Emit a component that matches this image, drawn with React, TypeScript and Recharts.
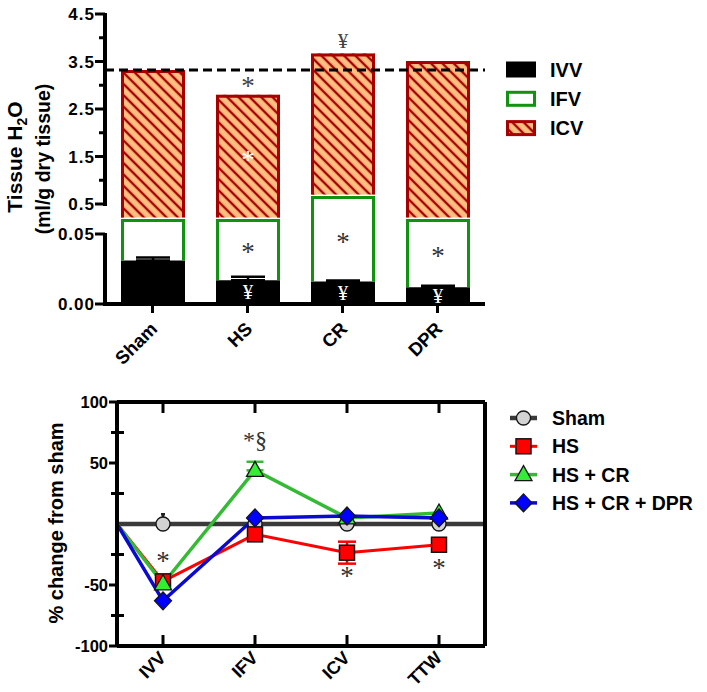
import React from 'react'
import {
  Bar,
  BarChart,
  ErrorBar,
  LabelList,
  Legend,
  Line,
  LineChart,
  ReferenceLine,
  XAxis,
  YAxis,
} from 'recharts'

// ---- top panel: tissue water compartments (ml/g dry tissue) ----
const groups = ['Sham', 'HS', 'CR', 'DPR']
const ivv = [0.031, 0.017, 0.016, 0.012]
const ivvErr = [0.0022, 0.0025, 0.0008, 0.001]
const ifv = [0.244, 0.258, 0.652, 0.263]
const icv = [3.045, 2.525, 3.002, 3.235]
const shamTotal = 3.32
const ivvMarks = ['', '¥', '¥', '¥']
const ifvMarks = ['', '*', '*', '*']
const icvMarks = ['', '*', '', '']
const totalMarks = ['', '*', '¥', '']
const lowerTicks = [0, 0.05]
const upperTicks = [0.5, 1, 1.5, 2, 2.5, 3, 3.5, 4, 4.5]
const upperLabels = [0.5, 1.5, 2.5, 3.5, 4.5]

// ---- bottom panel: % change from sham ----
const compartments = ['IVV', 'IFV', 'ICV', 'TTW']
const xPos = [0.5, 1, 2, 3, 4, 4.5]
const sham = [0, 0, 0, 0, 0, 0]
const hs = [0, -47, -8.5, -23.5, -17, null]
const hsCr = [0, -49, 44, 5, 9, null]
const hsCrDpr = [0, -63, 5, 6.5, 5, null]
const shamErr = [null, [0, 8], null, null, null, null]
const hsErr = [null, null, null, 9, null, null]
const hsCrErr = [null, null, [0, 7], null, null, null]
const hsMarks = ['', '*', '', '*', '*', '']
const hsMarkSide = ['', 'above', '', 'below', 'below', '']
const hsCrMarks = ['', '', '*§', '', '', '']
const pctTicks = [-100, -75, -50, -25, 0, 25, 50, 75, 100]
const pctLabels = [-100, -50, 50, 100]
const pctRightTicks = [-75, -50, -25, 25, 50, 75]

const SANS = 'Arial, "Liberation Sans", Helvetica, sans-serif'
const SERIF = '"Liberation Serif", "Times New Roman", serif'
const IFV_GREEN = '#119211'
const ICV_RED = '#a80000'
const ICV_FILL = '#fcbf80'

// broken axis: 0-0.05 gets 70 units, 0.05-0.5 gets 30, 0.5-4.5 gets 190
const toAxis = (v: number) =>
  v <= 0.05 ? (v / 0.05) * 70 : v <= 0.5 ? 70 + ((v - 0.05) / 0.45) * 30 : 100 + (v - 0.5) * 47.5
const AXIS_MAX = toAxis(4.5)
const TOP_PLOT_H = 290
const K = TOP_PLOT_H / AXIS_MAX

const barData = groups.map((name, i) => {
  const a = ivv[i]
  const b = a + ifv[i]
  const c = b + icv[i]
  return {
    name,
    ivv: toAxis(a),
    ifv: toAxis(b) - toAxis(a),
    icv: toAxis(c) - toAxis(b),
    ivvErr: [0, toAxis(a + ivvErr[i]) - toAxis(a)],
    ivvMark: ivvMarks[i],
    ifvMark: ifvMarks[i],
    icvMark: icvMarks[i],
    totalMark: totalMarks[i],
  }
})

const lineData = xPos.map((pos, i) => ({
  pos,
  sham: sham[i],
  hs: hs[i],
  hsCr: hsCr[i],
  hsCrDpr: hsCrDpr[i],
  shamErr: shamErr[i],
  hsErr: hsErr[i],
  hsCrErr: hsCrErr[i],
  hsAbove: hsMarkSide[i] === 'above' ? hsMarks[i] : '',
  hsBelow: hsMarkSide[i] === 'below' ? hsMarks[i] : '',
  hsCrMark: hsCrMarks[i],
}))

// draws a serif mark with its visual centre on (x, y)
function Mark({ x, y, text, fill = '#333', size = 26 }: any) {
  const dy = text === '*' ? 0.44 * size : 0.33 * size
  return (
    <text x={x} y={y + dy} textAnchor="middle" fontFamily={SERIF} fontSize={size} fill={fill}>
      {text}
    </text>
  )
}

const boxOf = (props: any) => {
  const vb = props.viewBox ?? {}
  return {
    x: vb.x ?? props.x,
    y: vb.y ?? props.y,
    width: vb.width ?? props.width ?? 0,
    height: vb.height ?? props.height ?? 0,
  }
}

const midLabel = (fill: string, size: number) => (props: any) => {
  if (!props.value) return <g />
  const { x, y, width, height } = boxOf(props)
  return <Mark x={x + width / 2} y={y + height / 2} text={props.value} fill={fill} size={size} />
}

const aboveBarLabel = (props: any) => {
  if (!props.value) return <g />
  const { x, y, width } = boxOf(props)
  return <Mark x={x + width / 2} y={y - 12} text={props.value} fill="#444" size={props.value === '*' ? 27 : 21} />
}

const pointLabel = (dy: number) => (props: any) => {
  if (!props.value) return <g />
  const { x, y } = boxOf(props)
  return <Mark x={x} y={y + dy} text={props.value} fill="#333" size={props.value === '*' ? 27 : 24} />
}

function IfvShape(props: any) {
  const { x, y, width, height } = props
  return (
    <path
      d={`M${x + 1.5},${y + height} V${y + 1.5} H${x + width - 1.5} V${y + height}`}
      fill="none"
      stroke={IFV_GREEN}
      strokeWidth={3}
    />
  )
}

function IcvShape(props: any) {
  const { x, y, width, height } = props
  return (
    <g>
      <rect x={x} y={y} width={width} height={Math.max(0, height - 1.5)} fill="url(#icvHatch)" />
      <path
        d={`M${x + 1.5},${y + height - 1.5} V${y + 1.5} H${x + width - 1.5} V${y + height - 1.5}`}
        fill="none"
        stroke={ICV_RED}
        strokeWidth={3}
      />
    </g>
  )
}

const tickDefs = [
  ...lowerTicks.map((v) => ({ v, label: v.toFixed(2), major: true })),
  ...upperTicks.map((v) => ({ v, label: upperLabels.includes(v) ? v.toFixed(1) : '', major: upperLabels.includes(v) })),
]

function WaterYTick(props: any) {
  const { x, y, payload } = props
  const def = tickDefs.find((d) => Math.abs(toAxis(d.v) - payload.value) < 0.01)
  if (!def) return <g />
  let segment = 0
  if (def.v === 0.05) segment = (toAxis(0.05) - toAxis(0)) * K
  if (def.v === 4.5) segment = (toAxis(4.5) - toAxis(0.5)) * K
  return (
    <g>
      {segment > 0 && <line x1={x} x2={x} y1={y - 1} y2={y + segment + 2} stroke="#000" strokeWidth={4} />}
      <line x1={def.major ? x - 10 : x - 6} x2={x} y1={y} y2={y} stroke="#000" strokeWidth={3} />
      {def.label && (
        <text
          x={x - 10}
          y={y}
          dy="0.36em"
          textAnchor="end"
          fontFamily={SANS}
          fontWeight="bold"
          fontSize={17}
          letterSpacing={1}
          fill="#000"
        >
          {def.label}
        </text>
      )}
    </g>
  )
}

function GroupTick(props: any) {
  const { x, y, payload } = props
  const ax = x + 6
  const ay = y + 17
  return (
    <text x={ax} y={ay} textAnchor="end" transform={`rotate(-45 ${ax} ${ay})`} fontFamily={SANS} fontWeight="bold" fontSize={18.5} fill="#000">
      {payload.value}
    </text>
  )
}

const WaterYLabel = () => (
  <g fontFamily={SANS} fontWeight="bold" fill="#000">
    <text transform="translate(22 157) rotate(-90)" textAnchor="middle" fontSize={21}>
      Tissue H
      <tspan fontSize={14} dy={5}>2</tspan>
      <tspan dy={-5}>O</tspan>
    </text>
    <text transform="translate(50 159) rotate(-90)" textAnchor="middle" fontSize={19.5}>
      (ml/g dry tissue)
    </text>
  </g>
)

const waterLegendItems = [
  { label: 'IVV', fill: '#000', stroke: '#000' },
  { label: 'IFV', fill: '#fff', stroke: IFV_GREEN },
  { label: 'ICV', fill: 'url(#icvHatchLegend)', stroke: ICV_RED },
]

const Hatch = ({ id }: { id: string }) => (
  <pattern id={id} patternUnits="userSpaceOnUse" width={8} height={8} patternTransform="rotate(-45)">
    <rect width={8} height={8} fill={ICV_FILL} />
    <line x1={4} y1={0} x2={4} y2={8} stroke={ICV_RED} strokeWidth={2.4} />
  </pattern>
)

const WaterLegend = () => (
  <svg width={180} height={100}>
    <defs>
      <Hatch id="icvHatchLegend" />
    </defs>
    {waterLegendItems.map((it, i) => (
      <g key={it.label} transform={`translate(0 ${i * 29.3})`}>
        <rect x={9.5} y={8} width={27} height={13} fill={it.fill} stroke={it.stroke} strokeWidth={3} />
        <text x={52} y={14.5} dy="0.36em" fontFamily={SANS} fontWeight="bold" fontSize={20} fill="#000">
          {it.label}
        </text>
      </g>
    ))}
  </svg>
)

function WaterChart() {
  return (
    <BarChart width={707} height={370} data={barData} margin={{ top: 14, right: 222, bottom: 16, left: 0 }} barSize={64}>
      <defs>
        <Hatch id="icvHatch" />
      </defs>
      <XAxis
        dataKey="name"
        height={50}
        interval={0}
        axisLine={{ stroke: '#000', strokeWidth: 4 }}
        tickLine={{ stroke: '#000', strokeWidth: 3 }}
        tickSize={9}
        tickMargin={0}
        tick={<GroupTick />}
      />
      <YAxis
        type="number"
        domain={[0, AXIS_MAX]}
        ticks={tickDefs.map((d) => toAxis(d.v))}
        interval={0}
        width={105}
        axisLine={false}
        tickLine={false}
        tickSize={0}
        tickMargin={0}
        tick={<WaterYTick />}
        label={{ content: WaterYLabel }}
      />
      <Bar dataKey="ivv" stackId="w" fill="#000" isAnimationActive={false}>
        <ErrorBar dataKey="ivvErr" width={17} strokeWidth={2.5} stroke="#000" direction="y" />
        <LabelList dataKey="ivvMark" content={midLabel('#fff', 21)} />
      </Bar>
      <Bar dataKey="ifv" stackId="w" shape={<IfvShape />} isAnimationActive={false}>
        <LabelList dataKey="ifvMark" content={midLabel('#333', 27)} />
      </Bar>
      <Bar dataKey="icv" stackId="w" shape={<IcvShape />} isAnimationActive={false}>
        <LabelList dataKey="icvMark" content={midLabel('#fff', 27)} />
        <LabelList dataKey="totalMark" content={aboveBarLabel} />
      </Bar>
      <ReferenceLine y={toAxis(shamTotal)} stroke="#000" strokeWidth={3} strokeDasharray="9 5" />
      <Legend
        content={WaterLegend}
        layout="horizontal"
        verticalAlign="middle"
        align="center"
        wrapperStyle={{ left: 498, top: 55, width: 180, height: 100 }}
      />
    </BarChart>
  )
}

// ---- bottom panel pieces ----
const seriesStyle = {
  sham: { label: 'Sham', line: '#3a3a3a', width: 4.5, fill: '#d3d3d3', shape: 'circle' },
  hs: { label: 'HS', line: '#ff0000', width: 3, fill: '#ff0000', shape: 'square' },
  hsCr: { label: 'HS + CR', line: '#33bb33', width: 3.5, fill: '#33ee33', shape: 'triangle' },
  hsCrDpr: { label: 'HS + CR + DPR', line: '#0a0ad0', width: 3.5, fill: '#0000ff', shape: 'diamond' },
}

function Marker({ cx, cy, shape, fill }: any) {
  const s = '#151515'
  if (shape === 'circle') return <circle cx={cx} cy={cy} r={7} fill={fill} stroke={s} strokeWidth={1.3} />
  if (shape === 'square') return <rect x={cx - 7.5} y={cy - 7.5} width={15} height={15} fill={fill} stroke={s} strokeWidth={1.5} />
  if (shape === 'triangle')
    return <polygon points={`${cx},${cy - 9} ${cx - 8.5},${cy + 6} ${cx + 8.5},${cy + 6}`} fill={fill} stroke={s} strokeWidth={1.3} />
  return <polygon points={`${cx},${cy - 9} ${cx + 8.5},${cy} ${cx},${cy + 9} ${cx - 8.5},${cy}`} fill={fill} stroke={s} strokeWidth={1.3} />
}

const dotFor = (key: keyof typeof seriesStyle) => (props: any) => {
  const { cx, cy, index, payload } = props
  const st = seriesStyle[key]
  if (cy == null || payload.pos < 1 || payload.pos > 4) return <g key={`${key}-${index}`} />
  return <Marker key={`${key}-${index}`} cx={cx} cy={cy} shape={st.shape} fill={st.fill} />
}

function PctXTick(props: any) {
  const { x, y, payload } = props
  const label = compartments[payload.value - 1]
  const ax = x + 4
  const ay = y + 13
  return (
    <g>
      <line x1={x} x2={x} y1={y} y2={y - 11} stroke="#000" strokeWidth={3} />
      <text x={ax} y={ay} textAnchor="end" transform={`rotate(-45 ${ax} ${ay})`} fontFamily={SANS} fontWeight="bold" fontSize={18} fill="#000">
        {label}
      </text>
    </g>
  )
}

function PctTopTick(props: any) {
  const { x, y } = props
  return <line x1={x} x2={x} y1={y} y2={y + 11} stroke="#000" strokeWidth={3} />
}

function PctYTick(props: any) {
  const { x, y, payload } = props
  const v = payload.value
  if (v === 0) return <g />
  const major = pctLabels.includes(v)
  return (
    <g>
      <line x1={major ? x - 8 : x - 6} x2={major ? x : x + 7} y1={y} y2={y} stroke="#000" strokeWidth={3} />
      {major && (
        <text x={x - 9} y={y} dy="0.36em" textAnchor="end" fontFamily={SANS} fontWeight="bold" fontSize={16.5} fill="#000">
          {v}
        </text>
      )}
    </g>
  )
}

function PctRightTick(props: any) {
  const { x, y } = props
  return <line x1={x} x2={x - 8} y1={y} y2={y} stroke="#000" strokeWidth={3} />
}

const PctYLabel = () => (
  <text
    transform="translate(56 153) rotate(-90)"
    textAnchor="middle"
    dy="0.36em"
    fontFamily={SANS}
    fontWeight="bold"
    fontSize={20}
    fill="#000"
  >
    % change from sham
  </text>
)

const PctLegend = () => (
  <svg width={220} height={120}>
    {(Object.keys(seriesStyle) as (keyof typeof seriesStyle)[]).map((k, i) => {
      const st = seriesStyle[k]
      const cy = 16 + i * 28.3
      return (
        <g key={k}>
          <line x1={12} x2={39} y1={cy} y2={cy} stroke={st.line} strokeWidth={st.width} />
          <Marker cx={25.5} cy={cy} shape={st.shape} fill={st.fill} />
          <text x={54} y={cy} dy="0.36em" fontFamily={SANS} fontWeight="bold" fontSize={19.5} fill="#000">
            {st.label}
          </text>
        </g>
      )
    })}
  </svg>
)

function ChangeChart() {
  return (
    <LineChart width={707} height={322} data={lineData} margin={{ top: 31, right: 221, bottom: 6, left: 0 }}>
      <XAxis
        type="number"
        dataKey="pos"
        domain={[0.5, 4.5]}
        ticks={[1, 2, 3, 4]}
        interval={0}
        height={40}
        axisLine={{ stroke: '#000', strokeWidth: 4 }}
        tickLine={false}
        tickSize={0}
        tickMargin={0}
        tick={<PctXTick />}
      />
      <XAxis
        xAxisId="top"
        orientation="top"
        type="number"
        dataKey="pos"
        domain={[0.5, 4.5]}
        ticks={[1, 2, 3, 4]}
        interval={0}
        height={1}
        axisLine={{ stroke: '#000', strokeWidth: 4 }}
        tickLine={false}
        tickSize={0}
        tickMargin={0}
        tick={<PctTopTick />}
      />
      <YAxis
        type="number"
        domain={[-100, 100]}
        ticks={pctTicks}
        interval={0}
        width={117}
        axisLine={{ stroke: '#000', strokeWidth: 4 }}
        tickLine={false}
        tickSize={0}
        tickMargin={0}
        tick={<PctYTick />}
        label={{ content: PctYLabel }}
      />
      <YAxis
        yAxisId="right"
        orientation="right"
        type="number"
        domain={[-100, 100]}
        ticks={pctRightTicks}
        interval={0}
        width={1}
        axisLine={{ stroke: '#000', strokeWidth: 4 }}
        tickLine={false}
        tickSize={0}
        tickMargin={0}
        tick={<PctRightTick />}
      />
      <Line dataKey="sham" stroke={seriesStyle.sham.line} strokeWidth={seriesStyle.sham.width} dot={dotFor('sham')} activeDot={false} isAnimationActive={false}>
        <ErrorBar dataKey="shamErr" width={2} strokeWidth={2.5} stroke="#222" direction="y" />
      </Line>
      <Line dataKey="hs" stroke={seriesStyle.hs.line} strokeWidth={seriesStyle.hs.width} dot={dotFor('hs')} activeDot={false} isAnimationActive={false}>
        <ErrorBar dataKey="hsErr" width={9} strokeWidth={2.5} stroke="#ff0000" direction="y" />
        <LabelList dataKey="hsAbove" content={pointLabel(-23)} />
        <LabelList dataKey="hsBelow" content={pointLabel(20)} />
      </Line>
      <Line dataKey="hsCr" stroke={seriesStyle.hsCr.line} strokeWidth={seriesStyle.hsCr.width} dot={dotFor('hsCr')} activeDot={false} isAnimationActive={false}>
        <ErrorBar dataKey="hsCrErr" width={8.5} strokeWidth={2.5} stroke="#33bb33" direction="y" />
        <LabelList dataKey="hsCrMark" content={pointLabel(-30)} />
      </Line>
      <Line dataKey="hsCrDpr" stroke={seriesStyle.hsCrDpr.line} strokeWidth={seriesStyle.hsCrDpr.width} dot={dotFor('hsCrDpr')} activeDot={false} isAnimationActive={false} />
      <Legend
        content={PctLegend}
        layout="horizontal"
        verticalAlign="middle"
        align="center"
        wrapperStyle={{ left: 498, top: 32, width: 220, height: 120 }}
      />
    </LineChart>
  )
}

export default function App() {
  return (
    <div style={{ position: 'absolute', left: 0, top: 0, width: 707, height: 692, background: '#fff', fontFamily: SANS }}>
      <div style={{ position: 'absolute', left: 0, top: 0 }}>
        <WaterChart />
      </div>
      <div style={{ position: 'absolute', left: 0, top: 370 }}>
        <ChangeChart />
      </div>
    </div>
  )
}
